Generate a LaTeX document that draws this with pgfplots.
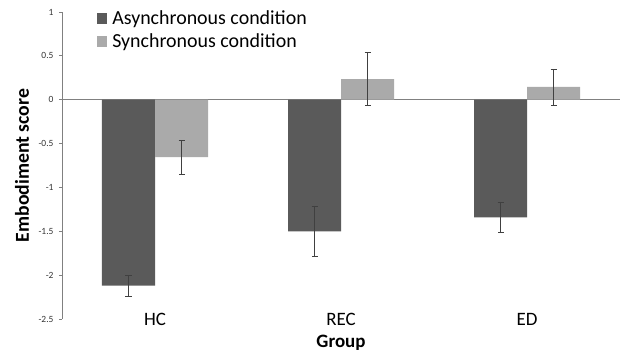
\documentclass[border=0pt]{standalone}
\usepackage{pgfplots}
\pgfplotsset{compat=1.18}
\usepackage{fontspec}
\setmainfont{Carlito}
\definecolor{darkbar}{RGB}{90,90,90}
\definecolor{lightbar}{RGB}{170,170,170}
\definecolor{axisgray}{RGB}{128,128,128}
\begin{document}
\begin{tikzpicture}
\begin{axis}[
  scale only axis,
  width=558bp, height=307bp,
  xmin=-0.5, xmax=2.5,
  ymin=-2.5, ymax=1,
  ytick={-2.5,-2,-1.5,-1,-0.5,0,0.5,1},
  yticklabels={-2.5,-2,-1.5,-1,-0.5,0,0.5,1},
  axis y line*=left,
  axis x line*=bottom,
  x axis line style={draw=none},
  y axis line style={draw=axisgray, line width=0.8pt},
  major x tick style={draw=none},
  major y tick style={draw=axisgray, line width=0.8pt},
  tick align=outside,
  major tick length=3bp,
  yticklabel style={font=\fontsize{9.5}{10}\selectfont, text=black!80, xshift=-2bp},
  xtick={0,1,2},
  xticklabels={HC,REC,ED},
  xticklabel style={font=\fontsize{19}{22}\selectfont, anchor=center, yshift=3bp},
  xlabel={\textbf{Group}},
  xlabel style={font=\fontsize{19}{22}\selectfont, at={(axis description cs:0.5,0)}, anchor=center, yshift=-24bp},
  ylabel={\textbf{Embodiment score}},
  ylabel style={font=\fontsize{19.8}{22}\selectfont, at={(axis description cs:0,0.5)}, anchor=center, yshift=40bp},
  ybar=0pt,
  bar width=53bp,
  error bars/error bar style={black!75, line width=0.6pt},
  error bars/error mark options={rotate=90, mark size=3bp, black!75, line width=0.6pt},
  legend style={draw=none, fill=none, at={(axis description cs:0.062,1.01)}, anchor=north west,
    font=\fontsize{20}{24}\selectfont, inner sep=0pt, row sep=3bp,
    /tikz/every even column/.append style={column sep=0pt}},
  legend cell align=left,
  legend image code/.code={\fill[#1] (0bp,-5.5bp) rectangle (10.5bp,5.5bp);},
  clip=false,
]
\draw[axisgray, line width=0.8pt] (axis cs:-0.5,0) -- (axis cs:2.5,0);
\addplot[fill=darkbar, draw=none, error bars/.cd, y dir=both, y explicit]
  coordinates {(0,-2.12) +- (0,0.12) (1,-1.50) +- (0,0.29) (2,-1.34) +- (0,0.175)};
\addplot[fill=lightbar, draw=none, error bars/.cd, y dir=both, y explicit]
  coordinates {(0,-0.655) +- (0,0.19) (1,0.235) +- (0,0.30) (2,0.145) +- (0,0.205)};
\legend{\hspace{3bp}Asynchronous condition, \hspace{3bp}Synchronous condition}
\end{axis}
\pgfresetboundingbox
\path[use as bounding box] ([xshift=-62bp,yshift=-34bp]current axis.south west) rectangle ([xshift=0bp,yshift=12bp]current axis.north east);
\end{tikzpicture}
\end{document}
